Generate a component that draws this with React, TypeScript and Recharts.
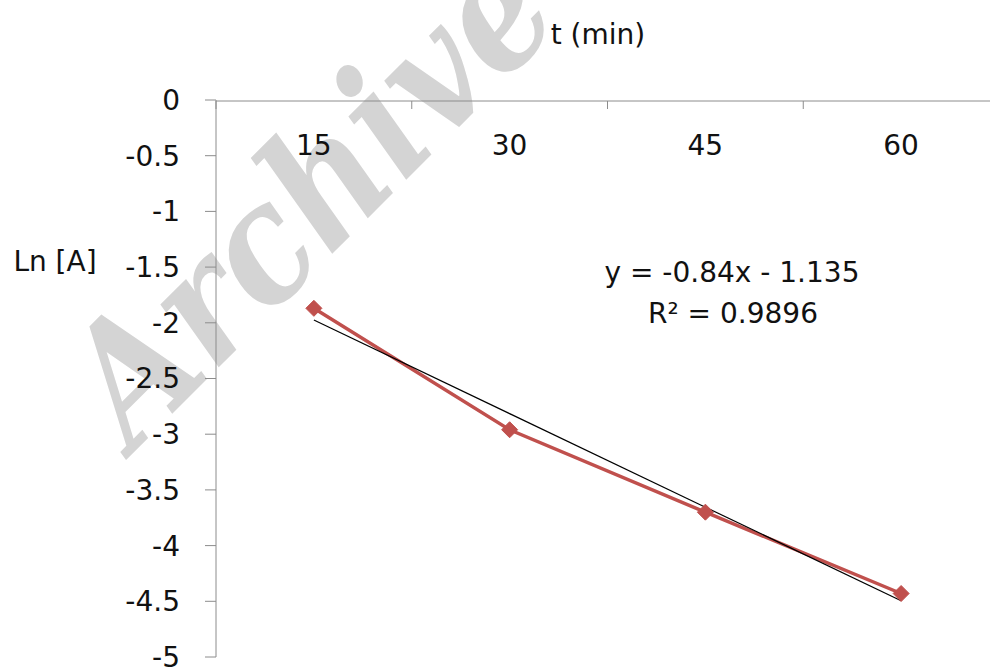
import { LineChart, Line, XAxis, YAxis } from 'recharts'

// time points (min) and measured Ln[A]
const times = ['15', '30', '45', '60']
const lnA = [-1.87, -2.96, -3.7, -4.43]
// linear trendline (y = -0.84x - 1.135)
const trend = [-1.975, -2.815, -3.655, -4.495]
const yTicks = [0, -0.5, -1, -1.5, -2, -2.5, -3, -3.5, -4, -4.5, -5]

const FONT = '"DejaVu Sans", sans-serif'
const AXIS = '#8c8c8c'
const RED = '#c0504d'

const data = times.map((t, i) => ({ pos: i + 1, t, ln: lnA[i], trend: trend[i] }))

function Diamond(props: any) {
  const { cx, cy, index } = props
  if (cx == null || cy == null) return null
  const r = 8
  return (
    <path
      key={`d-${index}`}
      d={`M${cx},${cy - r} L${cx + r},${cy} L${cx},${cy + r} L${cx - r},${cy} Z`}
      fill={RED}
      stroke={RED}
    />
  )
}

export default function App() {
  return (
    <div
      style={{
        position: 'absolute',
        left: 0,
        top: 0,
        width: 990,
        height: 667,
        overflow: 'hidden',
        background: '#fff',
        fontFamily: FONT,
      }}
    >
      {/* watermark behind everything */}
      <svg width={990} height={667} style={{ position: 'absolute', left: 0, top: 0 }}>
        <text
          x={0}
          y={0}
          transform="translate(134,452) rotate(-45)"
          fontFamily='"DejaVu Serif"'
          fontWeight="bold"
          fontStyle="italic"
          fontSize={165}
          textLength={610}
          lengthAdjust="spacingAndGlyphs"
          fill="#d4d4d4"
        >
          Archive
        </text>
      </svg>

      <div style={{ position: 'absolute', left: 0, top: 0 }}>
        <LineChart width={1000} height={667} data={data} margin={{ top: 100, right: 1, left: 0, bottom: 10 }}>
          <XAxis
            xAxisId="marks"
            type="number"
            dataKey="pos"
            orientation="top"
            mirror
            height={1}
            domain={[0.5, 4.5]}
            ticks={[0.5, 1.5, 2.5, 3.5, 4.5]}
            interval={0}
            allowDataOverflow
            tickSize={8}
            tickFormatter={() => ''}
            axisLine={{ stroke: AXIS }}
            tickLine={{ stroke: AXIS }}
          />
          <XAxis
            xAxisId="lab"
            type="number"
            dataKey="pos"
            orientation="top"
            mirror
            height={1}
            domain={[0.5, 4.5]}
            ticks={[1, 2, 3, 4]}
            interval={0}
            allowDataOverflow
            tickSize={0}
            tickMargin={35}
            axisLine={false}
            tickLine={false}
            tickFormatter={(v: number) => times[v - 1] ?? ''}
            tick={{ fill: '#111', fontSize: 28, fontFamily: FONT }}
          />
          <YAxis
            type="number"
            domain={[-5, 0]}
            ticks={yTicks}
            interval={0}
            width={216}
            tickSize={11}
            tickMargin={25}
            axisLine={{ stroke: AXIS }}
            tickLine={{ stroke: AXIS }}
            tick={{ fill: '#111', fontSize: 28, fontFamily: FONT }}
          />
          <Line
            xAxisId="lab"
            type="linear"
            dataKey="ln"
            stroke={RED}
            strokeWidth={3.5}
            dot={<Diamond />}
            activeDot={false}
            isAnimationActive={false}
          />
          <Line
            xAxisId="lab"
            type="linear"
            dataKey="trend"
            stroke="#000"
            strokeWidth={1.2}
            dot={false}
            activeDot={false}
            isAnimationActive={false}
          />
        </LineChart>
      </div>

      {/* titles and trendline equation */}
      <svg
        width={990}
        height={667}
        style={{ position: 'absolute', left: 0, top: 0, pointerEvents: 'none' }}
        fontFamily={FONT}
        fontSize={28}
        fill="#111"
      >
        <text x={598} y={34} textAnchor="middle" dominantBaseline="central">
          t (min)
        </text>
        <text x={55} y={261} textAnchor="middle" dominantBaseline="central">
          Ln [A]
        </text>
        <text x={732} y={272} textAnchor="middle" dominantBaseline="central">
          y = -0.84x - 1.135
        </text>
        <text x={733} y={313} textAnchor="middle" dominantBaseline="central">
          R² = 0.9896
        </text>
      </svg>
    </div>
  )
}
